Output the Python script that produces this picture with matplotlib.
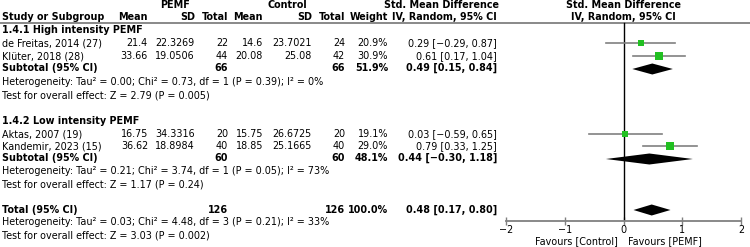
import numpy as np
import matplotlib.pyplot as plt

# Datos de los estudios
estudios = ["de Freitas, 2014 (27)", "Klüter, 2018 (28)", "Aktas, 2007 (19)", "Kandemir, 2023 (15)"]
pemf_media = ["21.4", "33.66", "16.75", "36.62"]
pemf_sd = ["22.3269", "19.0506", "34.3316", "18.8984"]
pemf_n = [22, 44, 20, 40]
ctrl_media = ["14.6", "20.08", "15.75", "18.85"]
ctrl_sd = ["23.7021", "25.08", "26.6725", "25.1665"]
ctrl_n = [24, 42, 20, 40]
peso = [20.9, 30.9, 19.1, 29.0]
smd = [0.29, 0.61, 0.03, 0.79]
ci_lo = [-0.29, 0.17, -0.59, 0.33]
ci_hi = [0.87, 1.04, 0.65, 1.25]

# Subgrupos y total
sub_nombres = ["1.4.1 High intensity PEMF", "1.4.2 Low intensity PEMF"]
sub_n_pemf = [66, 60]
sub_n_ctrl = [66, 60]
sub_peso = [51.9, 48.1]
sub_smd = [0.49, 0.44]
sub_lo = [0.15, -0.30]
sub_hi = [0.84, 1.18]
sub_het = ["Heterogeneity: Tau² = 0.00; Chi² = 0.73, df = 1 (P = 0.39); I² = 0%",
           "Heterogeneity: Tau² = 0.21; Chi² = 3.74, df = 1 (P = 0.05); I² = 73%"]
sub_test = ["Test for overall effect: Z = 2.79 (P = 0.005)",
            "Test for overall effect: Z = 1.17 (P = 0.24)"]
tot_n_pemf, tot_n_ctrl, tot_peso = 126, 126, 100.0
tot_smd, tot_lo, tot_hi = 0.48, 0.17, 0.80
tot_het = "Heterogeneity: Tau² = 0.03; Chi² = 4.48, df = 3 (P = 0.21); I² = 33%"
tot_test = "Test for overall effect: Z = 3.03 (P = 0.002)"
ticks = [-2, -1, 0, 1, 2]

# Posiciones (pixeles)
y_filas_sub = [[30, 43, 56, 68, 82, 95], [121, 134, 146, 158, 171, 184]]
y_total = [210, 222, 235]
y_axis = 221
col_x = [148, 195, 228, 263, 312, 345, 388, 497]

fs = 6.9
plt.rcParams['font.family'] = 'DejaVu Sans'

def ci_txt(e, l, h):
    return ("%.2f [%.2f, %.2f]" % (e, l, h)).replace("-", "\u2212")

fig = plt.figure(figsize=(7.5, 2.47), dpi=100)
ax = fig.add_axes([0, 0, 1, 1])
ax.set_xlim(0, 750)
ax.set_ylim(247, 0)
ax.axis('off')

fax = fig.add_axes([506/750, (247-y_axis)/247, (741-506)/750, y_axis/247])
fax.set_xlim(-2, 2)
fax.set_ylim(y_axis, 0)
fax.patch.set_alpha(0)
for s in ['top', 'left', 'right']:
    fax.spines[s].set_visible(False)
fax.spines['bottom'].set_color('#808080')
fax.spines['bottom'].set_linewidth(1.3)
fax.set_yticks([])
fax.set_xticks(ticks)
fax.tick_params(axis='x', direction='inout', length=6, color='#808080', width=1,
                labelsize=fs, pad=0)

# Encabezados
hb = dict(fontsize=fs, fontweight='bold', va='center')
ax.text(175, 5, "PEMF", ha='center', **hb)
ax.text(287, 5, "Control", ha='center', **hb)
ax.text(442, 5, "Std. Mean Difference", ha='center', **hb)
ax.text(623, 5, "Std. Mean Difference", ha='center', **hb)
ax.text(2, 17, "Study or Subgroup", ha='left', **hb)
for xx, t in zip(col_x, ["Mean", "SD", "Total", "Mean", "SD", "Total", "Weight", "IV, Random, 95% CI"]):
    ax.text(xx, 17, t, ha='right', **hb)
ax.text(623, 17, "IV, Random, 95% CI", ha='center', **hb)
ax.plot([0, 750], [23.5, 23.5], color='#808080', lw=1.3)

fax.plot([0, 0], [23.5, y_axis], color='black', lw=1)

def diamante(e, l, h, y, alto=5.5):
    fax.fill([l, e, h, e], [y, y - alto, y, y + alto], color='black', lw=0)

k = 0
for g in range(2):
    ys = y_filas_sub[g]
    ax.text(2, ys[0], sub_nombres[g], fontsize=fs, fontweight='bold', va='center')
    for j in range(2):
        i = k + j
        y = ys[1 + j]
        valores = [pemf_media[i], pemf_sd[i], str(pemf_n[i]), ctrl_media[i], ctrl_sd[i],
                   str(ctrl_n[i]), "%.1f%%" % peso[i], ci_txt(smd[i], ci_lo[i], ci_hi[i])]
        ax.text(2, y, estudios[i], fontsize=fs, va='center')
        for xx, t in zip(col_x, valores):
            ax.text(xx, y, t, fontsize=fs, va='center', ha='right')
        fax.plot([ci_lo[i], ci_hi[i]], [y, y], color='#808080', lw=1.2)
        fax.plot(smd[i], y, marker='s', color='#21c021', markersize=2.2 + peso[i] * 0.11, mew=0)
    k += 2
    y = ys[3]
    ax.text(2, y, "Subtotal (95% CI)", fontsize=fs, fontweight='bold', va='center')
    sub_vals = {2: str(sub_n_pemf[g]), 5: str(sub_n_ctrl[g]), 6: "%.1f%%" % sub_peso[g],
                7: ci_txt(sub_smd[g], sub_lo[g], sub_hi[g])}
    for c, t in sub_vals.items():
        ax.text(col_x[c], y, t, fontsize=fs, fontweight='bold', va='center', ha='right')
    diamante(sub_smd[g], sub_lo[g], sub_hi[g], y + 1)
    ax.text(2, ys[4], sub_het[g], fontsize=fs, va='center')
    ax.text(2, ys[5], sub_test[g], fontsize=fs, va='center')

# Total
y = y_total[0]
ax.text(2, y, "Total (95% CI)", fontsize=fs, fontweight='bold', va='center')
tot_vals = {2: str(tot_n_pemf), 5: str(tot_n_ctrl), 6: "%.1f%%" % tot_peso,
            7: ci_txt(tot_smd, tot_lo, tot_hi)}
for c, t in tot_vals.items():
    ax.text(col_x[c], y, t, fontsize=fs, fontweight='bold', va='center', ha='right')
diamante(tot_smd, tot_lo, tot_hi, y)
ax.text(2, y_total[1], tot_het, fontsize=fs, va='center')
ax.text(2, y_total[2], tot_test, fontsize=fs, va='center')

ax.text(618, 241.5, "Favours [Control]", fontsize=fs, ha='right', va='center')
ax.text(628, 241.5, "Favours [PEMF]", fontsize=fs, ha='left', va='center')

plt.savefig("out.png", dpi=100)
